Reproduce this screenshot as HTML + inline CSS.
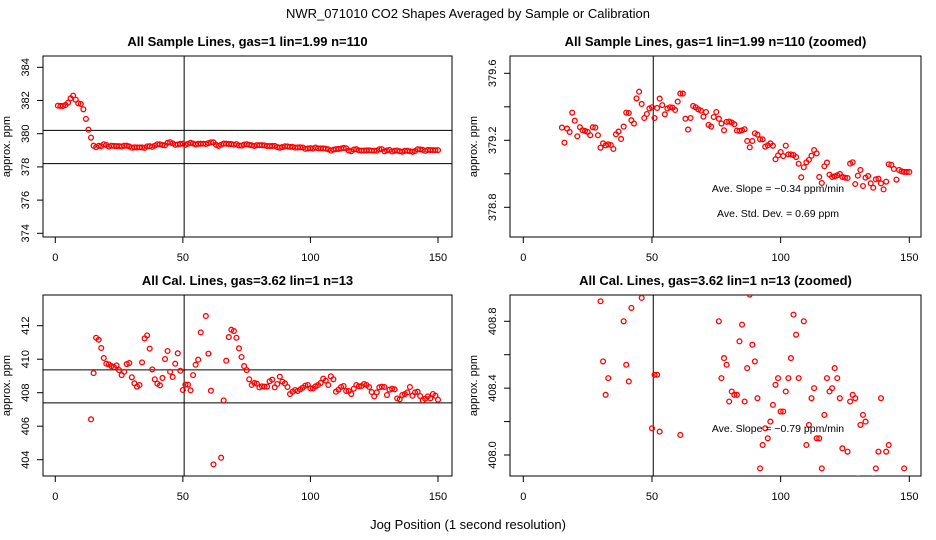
<!DOCTYPE html>
<html><head><meta charset="utf-8">
<style>
html,body{margin:0;padding:0;background:#fff;width:936px;height:540px;overflow:hidden;}
svg{display:block;font-family:"Liberation Sans",Helvetica,sans-serif;}
</style></head>
<body>
<svg id="chart" width="936" height="540" viewBox="0 0 936 540">
  <text x="468" y="18" text-anchor="middle" font-size="13">NWR_071010  CO2 Shapes Averaged by Sample or Calibration</text>
  <text x="468" y="529" text-anchor="middle" font-size="13">Jog Position (1 second resolution)</text>
  <g id="panels"></g>
</svg>
<script>
// ---- data ----
const xTicks = [0, 50, 100, 150];
// Sample-line averages, x = 1..150
const sampleValues = [381.69,381.67,381.67,381.73,381.87,382.13,382.29,382.05,381.83,381.79,381.47,380.89,380.24,379.76,
379.276,379.186,379.27,379.25,379.365,379.317,379.224,379.278,379.26,379.256,379.25,379.23,379.278,379.276,379.23,379.156,
379.182,379.17,379.176,379.172,379.148,379.236,379.252,379.208,379.282,379.365,379.363,379.32,379.30,379.45,379.49,
379.417,379.333,379.357,379.39,379.397,379.333,379.393,379.449,379.41,379.355,379.39,379.397,379.395,379.381,379.431,
379.479,379.479,379.329,379.264,379.333,379.405,379.397,379.385,379.377,379.341,379.369,379.292,379.282,379.339,379.369,
379.329,379.30,379.26,379.31,379.312,379.306,379.296,379.258,379.256,379.26,379.266,379.196,379.158,379.196,379.242,
379.234,379.206,379.206,379.162,379.17,379.182,379.168,379.087,379.11,379.13,379.106,379.168,379.116,379.116,379.112,
379.10,379.06,378.979,379.039,379.069,379.083,379.108,379.142,379.122,378.981,378.945,379.045,379.067,378.995,378.981,
378.985,378.991,378.999,378.981,378.977,378.975,379.061,379.069,378.939,378.989,379.023,378.927,378.977,378.987,378.943,
378.917,378.967,378.971,378.943,378.907,378.953,379.057,379.053,379.029,378.965,379.023,379.015,379.011,379.011,379.011];
const sampleStartX = 1;
const sampleHLines = [380.2, 378.2];
// Calibration-line averages, x = 14..150 (null = no point)
const calValues = [406.41,409.17,411.28,411.16,410.67,410.07,409.73,409.69,409.59,409.53,409.63,409.35,409.05,409.25,
409.71,409.77,408.92,408.56,408.36,408.46,409.81,411.24,411.42,410.63,409.39,408.80,408.54,408.44,408.88,410.01,410.49,
409.25,408.94,409.73,410.35,409.31,408.16,408.48,408.48,408.14,409.05,409.67,409.97,411.60,null,412.58,410.33,408.12,
403.72,null,null,404.12,407.54,409.91,411.32,411.76,411.68,411.28,410.65,410.13,409.59,409.35,408.80,408.46,408.58,
408.54,408.32,408.38,408.36,408.36,408.68,408.78,408.32,408.52,408.96,408.66,408.56,408.34,407.92,408.06,408.16,408.10,
408.20,408.30,408.42,408.46,408.26,408.26,408.38,408.46,408.58,408.84,408.72,408.46,408.98,408.80,408.06,408.18,408.34,
408.40,408.10,408.10,407.92,408.24,408.46,408.38,408.40,408.52,408.46,408.34,408.04,407.78,408.02,408.32,408.36,408.34,
407.86,408.18,408.24,408.20,407.66,407.60,407.86,407.92,408.02,408.34,407.82,408.02,408.06,407.80,407.54,407.64,407.78,
407.66,407.92,407.82,407.58];
const calStartX = 14;
const calHLines = [409.36, 407.39];
const vLineX = 50.5;
const p1YTicks = [374,376,378,380,382,384];
const p2YTicks = [378.8,379.0,379.2,379.4,379.6];
const p2YLabels = ["378.8","","379.2","","379.6"];
const p3YTicks = [404,406,408,410,412];
const p4YTicks = [408.0,408.2,408.4,408.6,408.8];
const p4YLabels = ["408.0","","408.4","","408.8"];

// ---- layout ----
const NS = "http://www.w3.org/2000/svg";
const root = document.getElementById('panels');
function mk(tag, attrs, parent){const e=document.createElementNS(NS,tag);for(const k in attrs)e.setAttribute(k,attrs[k]);(parent||root).appendChild(e);return e;}

const panels = [
 {name:'sample-panel', title:'All Sample Lines, gas=1 lin=1.99 n=110', box:[43,56,452,237], xr:[55.3,438], y0:[384,67.3], y1:[374,233.3],
  vals:sampleValues, sx:sampleStartX, h:sampleHLines, yt:p1YTicks, yl:p1YTicks.map(String), notes:[]},
 {name:'sample-zoom-panel', title:'All Sample Lines, gas=1 lin=1.99 n=110 (zoomed)', box:[510,56,921,237], xr:[523.3,909.3], y0:[379.6,73.3], y1:[378.8,207.3],
  vals:sampleValues, sx:sampleStartX, h:sampleHLines, yt:p2YTicks, yl:p2YLabels,
  notes:[['Ave. Slope =  \u22120.34  ppm/min',192,'slope-annotation'],['Ave. Std. Dev. =  0.69  ppm',217,'std-dev-annotation']]},
 {name:'cal-panel', title:'All Cal. Lines, gas=3.62 lin=1 n=13', box:[43,295,452,476], xr:[55.3,438], y0:[412,325.7], y1:[404,459.7],
  vals:calValues, sx:calStartX, h:calHLines, yt:p3YTicks, yl:p3YTicks.map(String), notes:[]},
 {name:'cal-zoom-panel', title:'All Cal. Lines, gas=3.62 lin=1 n=13 (zoomed)', box:[510,295,921,476], xr:[523.3,909.3], y0:[408.8,321.3], y1:[408.0,455],
  vals:calValues, sx:calStartX, h:calHLines, yt:p4YTicks, yl:p4YLabels,
  notes:[['Ave. Slope =  \u22120.79  ppm/min',432,'slope-annotation']]}
];

panels.forEach((p,pi)=>{
  const [L,T,R,B] = p.box;
  const xs = v => p.xr[0] + (v - xTicks[0])/(xTicks[3]-xTicks[0])*(p.xr[1]-p.xr[0]);
  const ys = v => p.y0[1] + (v - p.y0[0])/(p.y1[0]-p.y0[0])*(p.y1[1]-p.y0[1]);
  const g = mk('g',{});
  
  
  const cp = mk('clipPath',{id:'clip'+pi},g);
  mk('rect',{x:L,y:T,width:R-L,height:B-T},cp);
  const t = mk('text',{x:(L+R)/2,y:T-10,'text-anchor':'middle','font-size':13,'font-weight':'bold'},g);
  t.textContent = p.title;
  
  
  const yt = mk('text',{x:0,y:0,'text-anchor':'middle','font-size':11,transform:`translate(${L-33},${(T+B)/2}) rotate(-90)`},g);
  yt.textContent = 'approx. ppm';
  
  
  xTicks.forEach(v=>{
    const x = xs(v);
    const tk = mk('line',{x1:x,x2:x,y1:B,y2:B+6,stroke:'#000','stroke-width':1},g);
    
    
    const tl = mk('text',{x:x,y:B+24,'text-anchor':'middle','font-size':11},g);
    tl.textContent = String(v);
    
    
  });
  p.yt.forEach((v,i)=>{
    const y = ys(v);
    const tk = mk('line',{x1:L-6,x2:L,y1:y,y2:y,stroke:'#000','stroke-width':1},g);
    
    
    if(p.yl[i]){
      const tl = mk('text',{x:0,y:0,'text-anchor':'middle','font-size':11,transform:`translate(${L-14},${y}) rotate(-90)`},g);
      tl.textContent = p.yl[i];
      
      
    }
  });
  const fr = mk('rect',{x:L,y:T,width:R-L,height:B-T,fill:'none',stroke:'#000','stroke-width':1},g);
  
  
  const inner = mk('g',{'clip-path':`url(#clip${pi})`},g);
  p.h.forEach(v=>{
    const hl = mk('line',{x1:L,x2:R,y1:ys(v),y2:ys(v),stroke:'#000','stroke-width':1},inner);
    
    
  });
  const vl = mk('line',{x1:xs(vLineX),x2:xs(vLineX),y1:T,y2:B,stroke:'#000','stroke-width':1},inner);
  
  
  p.vals.forEach((v,i)=>{
    if(v===null) return;
    const c = mk('circle',{cx:xs(p.sx+i),cy:ys(v),r:2.4,fill:'none',stroke:'#ff0000','stroke-width':1.3},inner);
    
    
  });
  p.notes.forEach(n=>{
    const a = mk('text',{x:778,y:n[1],'text-anchor':'middle','font-size':10.5},g);
    a.textContent = n[0];
    
    
  });
});
</script>
</body></html>
